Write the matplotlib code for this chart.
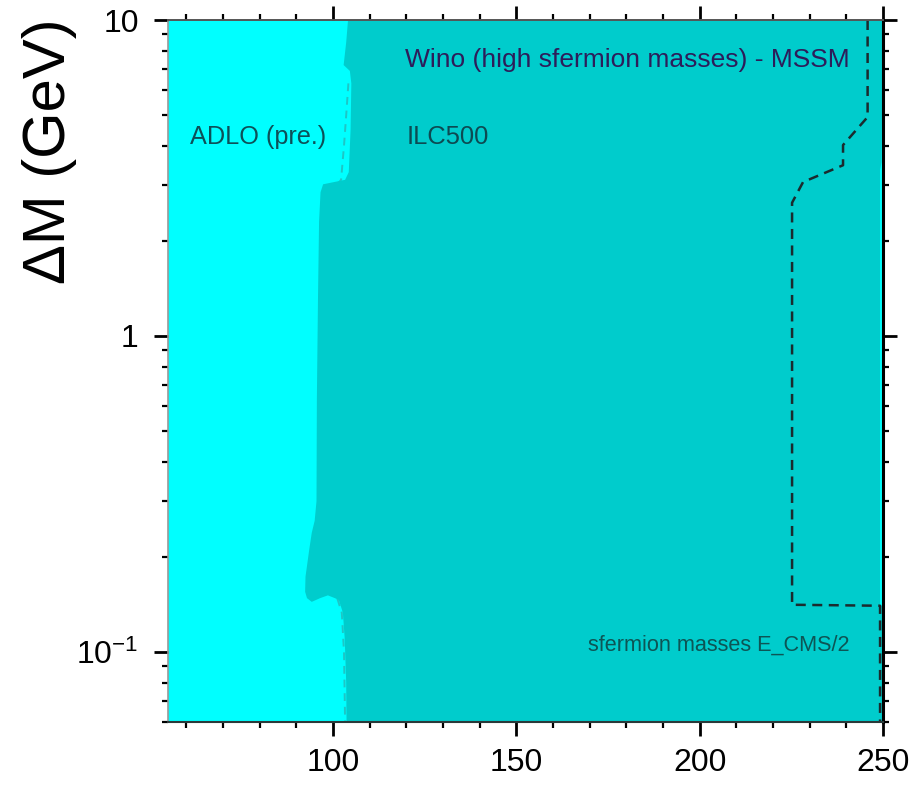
import matplotlib
matplotlib.use("Agg")
import matplotlib.pyplot as plt
from matplotlib.ticker import FixedLocator, FixedFormatter, LogLocator, NullFormatter, MultipleLocator

plt.rcParams['font.family'] = ['Liberation Sans', 'DejaVu Sans']
plt.rcParams['mathtext.fontset'] = 'custom'
plt.rcParams['mathtext.rm'] = 'Liberation Sans'
plt.rcParams['mathtext.it'] = 'Liberation Sans:italic'
plt.rcParams['mathtext.default'] = 'regular'

# ---------------- data ----------------
x_limits = [55, 250]
y_limits = [0.06, 10]

x_major_ticks = [100, 150, 200, 250]
x_tick_labels = ["100", "150", "200", "250"]
y_major_ticks = [0.1, 1, 10]
y_tick_labels = ["$10^{-1}$", "1", "10"]

# ILC500 region: left boundary (top -> bottom)
ilc_left_x = [104.1, 103.6, 102.9, 104.6, 105.0, 104.8, 104.3, 103.3, 97.3, 96.6,
              96.2, 95.9, 95.6, 95.5, 95.0, 94.2, 93.5, 92.5, 92.4, 92.9,
              94.2, 96.5, 98.6, 100.5, 101.6, 102.7, 103.2, 103.6, 103.7]
ilc_left_y = [10.0, 8.5, 7.2, 6.9, 6.3, 4.5, 3.3, 3.12, 3.02, 2.85,
              2.3, 1.3, 0.63, 0.30, 0.26, 0.238, 0.21, 0.173, 0.155, 0.148,
              0.144, 0.148, 0.151, 0.148, 0.146, 0.133, 0.11, 0.08, 0.06]
# ILC500 region: right boundary (bottom -> top)
ilc_right_x = [250.0, 250.0, 249.2, 249.2, 249.6, 250.0]
ilc_right_y = [0.06, 0.14, 0.14, 3.35, 3.55, 10.0]

# ADLO (pre.) limit, dashed
adlo_x = [104.2, 103.6, 103.0, 102.2, 101.0, 101.0, 102.4, 103.0, 103.3]
adlo_y = [6.3, 5.0, 4.0, 3.12, 3.0, 0.15, 0.133, 0.10, 0.06]

# sfermion masses E_CMS/2 limit, dashed
sferm_x = [245.8, 245.8, 239.1, 239.1, 228.2, 225.2, 225.2, 249.2, 249.2]
sferm_y = [10.0, 4.93, 4.02, 3.47, 3.07, 2.64, 0.141, 0.140, 0.06]

# ---------------- plot ----------------
fig = plt.figure(figsize=(9.2, 7.88), dpi=100)
ax = fig.add_axes([168/920, 1 - 722/788, 715/920, 702/788])

ax.set_xlim(*x_limits)
ax.set_ylim(*y_limits)
ax.set_yscale('log')
ax.set_facecolor('#00FFFF')

ax.plot(adlo_x, adlo_y, color='#1ec6c6', lw=1.4, dashes=[4, 3], zorder=1)

poly_x = ilc_left_x + ilc_right_x
poly_y = ilc_left_y + ilc_right_y
ax.fill(poly_x, poly_y, color='#00CCCC', lw=0, zorder=2)

ax.plot(sferm_x, sferm_y, color='#1b2b2e', lw=1.8, dashes=[4, 2.6], zorder=3)

# texts
ax.text(0.331, 0.943, "Wino (high sfermion masses) - MSSM", transform=ax.transAxes,
        fontsize=19, color='#2d1d5a', ha='left', va='center', zorder=5)
ax.text(0.031, 0.833, "ADLO (pre.)", transform=ax.transAxes,
        fontsize=18.2, color='#0d5058', ha='left', va='center', zorder=5)
ax.text(0.334, 0.833, "ILC500", transform=ax.transAxes,
        fontsize=18.4, color='#0d4a52', ha='left', va='center', zorder=5)
ax.text(0.587, 0.11, "sfermion masses E_CMS/2", transform=ax.transAxes,
        fontsize=15.6, color='#0d5555', ha='left', va='center', zorder=5)

# ticks
ax.xaxis.set_major_locator(FixedLocator(x_major_ticks))
ax.xaxis.set_major_formatter(FixedFormatter(x_tick_labels))
ax.xaxis.set_minor_locator(MultipleLocator(10))
ax.yaxis.set_major_locator(FixedLocator(y_major_ticks))
ax.yaxis.set_major_formatter(FixedFormatter(y_tick_labels))
ax.yaxis.set_minor_locator(LogLocator(base=10, subs=range(2, 10)))
ax.yaxis.set_minor_formatter(NullFormatter())

ax.tick_params(which='both', direction='out', top=True, right=True, colors='black')
ax.tick_params(which='major', length=10, width=2.0, labelsize=23)
ax.tick_params(which='minor', length=4.5, width=1.6)
ax.tick_params(axis='x', which='major', pad=9)
ax.tick_params(axis='y', which='major', pad=11)

ax.spines['left'].set_color('#999999')
ax.spines['left'].set_linewidth(1.2)
ax.spines['top'].set_color('#555555')
ax.spines['top'].set_linewidth(1.4)
ax.spines['bottom'].set_color('#2a3a3a')
ax.spines['bottom'].set_linewidth(1.5)
ax.spines['right'].set_color('black')
ax.spines['right'].set_linewidth(2.2)
for s in ax.spines.values():
    s.set_zorder(6)

fig.text(50/920, 1 - 18/788, "ΔM (GeV)", rotation=90, ha='center', va='top',
         fontsize=43, color='black')

fig.savefig("out.png", dpi=100)
